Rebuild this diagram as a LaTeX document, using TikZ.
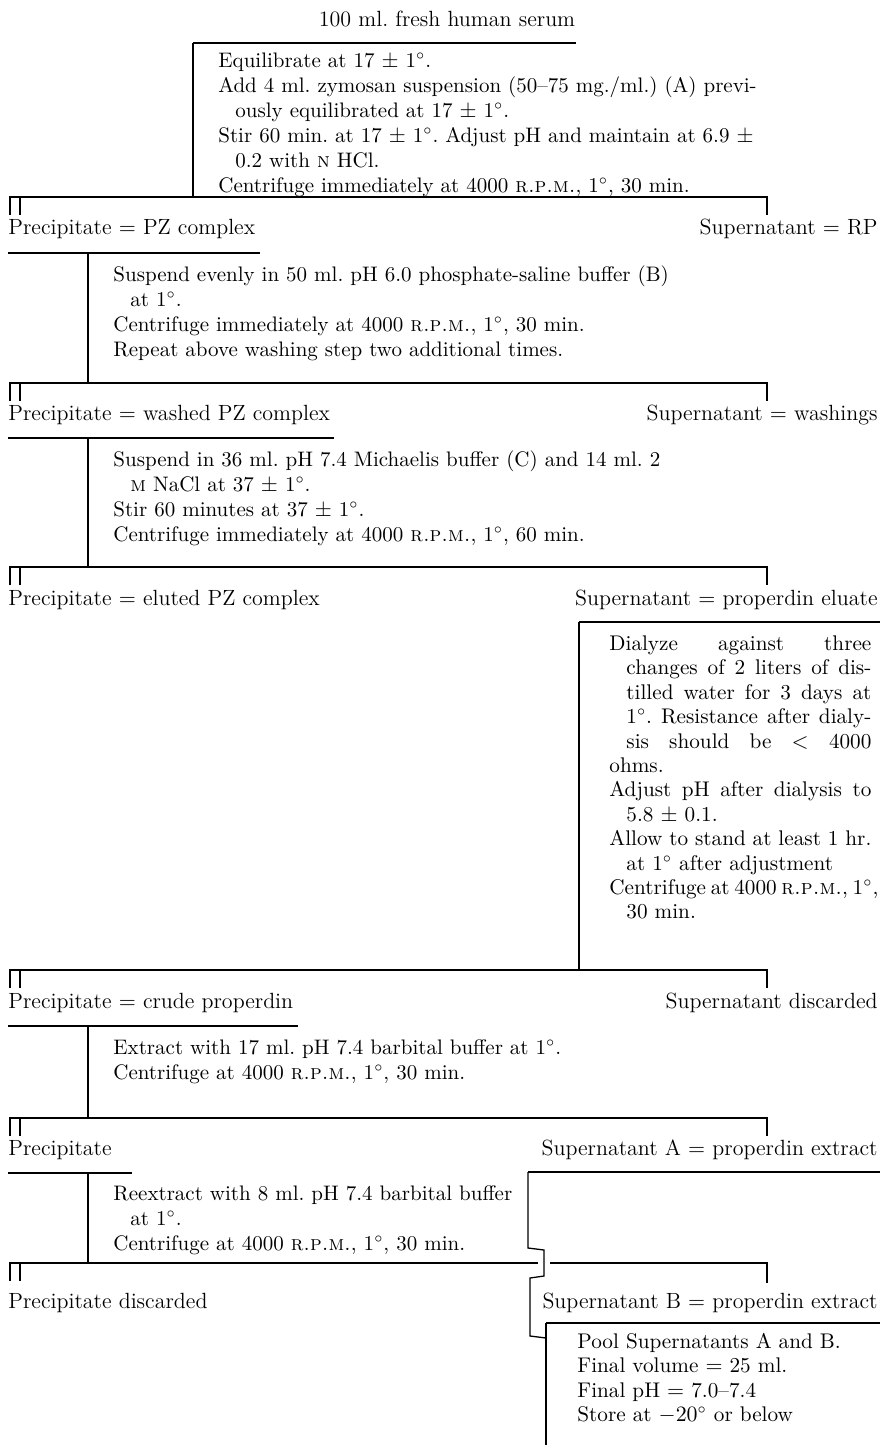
\documentclass[tikz,border=0pt]{standalone}
\frenchspacing
\tikzset{
  stage/.style={inner sep=0pt, font=\fontsize{11}{13}\selectfont},
  steps/.style={inner sep=0pt, anchor=north west, align=left, font=\fontsize{10.5}{12.5}\selectfont},
  bigsteps/.style={steps, font=\fontsize{10.6}{12.2}\selectfont},
  rule/.style={line width=0.65pt},
}
\newcommand{\hang}{\hspace*{8.5pt}}
\newcommand{\dg}{$^\circ$}
\newcommand{\jline}[2][131pt]{\makebox[#1][s]{#2}}

\begin{document}
\begin{tikzpicture}[x=0.5pt,y=-0.5pt]
\useasboundingbox (0,0) rectangle (880,1449);

% starting material
\node[stage,anchor=base] (serum) at (447,27) {100 ml. fresh human serum};
\draw[rule] (193,43) -- (576,43);
\draw[rule] (193,43) -- (193,197);
\node[steps] (mix) at (218,49.5) {\strut Equilibrate at 17 $\pm$ 1\dg.\\
  Add 4 ml. zymosan suspension (50--75 mg./ml.) (A) previ-\\
  \hang ously equilibrated at 17 $\pm$ 1\dg.\\
  Stir 60 min. at 17 $\pm$ 1\dg. Adjust pH and maintain at 6.9 $\pm$\\
  \hang 0.2 with \textsc{n} HCl.\\
  Centrifuge immediately at 4000 \textsc{r.p.m.}, 1\dg, 30 min.};

% split into precipitate and supernatant
\foreach \y in {197,383,567,970,1118} {
  \draw[rule] (10,{\y+18}) -- (10,\y) -- (767,\y) -- (767,{\y+18});
  \draw[rule] (20,\y) -- (20,{\y+18});
}
\draw[rule] (10,1281) -- (10,1263) -- (538,1263);
\draw[rule] (550,1263) -- (767,1263) -- (767,1283);
\draw[rule] (20,1263) -- (20,1281);

% first wash
\node[stage,anchor=base west] (pz) at (8,235) {Precipitate $=$ PZ complex};
\node[stage,anchor=base east] (rp) at (878,235) {Supernatant $=$ RP};
\draw[rule] ([yshift=-9pt]pz.base west) -- ([xshift=2pt,yshift=-9pt]pz.base east);
\draw[rule] (88,253) -- (88,383);
\node[steps] (wash) at (113,263.5) {\strut Suspend evenly in 50 ml. pH 6.0 phosphate-saline buffer (B)\\
  \hang at 1\dg.\\
  Centrifuge immediately at 4000 \textsc{r.p.m.}, 1\dg, 30 min.\\
  Repeat above washing step two additional times.};

% elution
\node[stage,anchor=base west] (wpz) at (8,420) {Precipitate $=$ washed PZ complex};
\node[stage,anchor=base east] (wsh) at (878,420) {Supernatant $=$ washings};
\draw[rule] ([yshift=-9pt]wpz.base west) -- ([xshift=2pt,yshift=-9pt]wpz.base east);
\draw[rule] (88,438) -- (88,567);
\node[steps] (elute) at (113,448.5) {\strut Suspend in 36 ml. pH 7.4 Michaelis buffer (C) and 14 ml. 2\\
  \hang \textsc{m} NaCl at 37 $\pm$ 1\dg.\\
  Stir 60 minutes at 37 $\pm$ 1\dg.\\
  Centrifuge immediately at 4000 \textsc{r.p.m.}, 1\dg, 60 min.};

% dialysis of the eluate
\node[stage,anchor=base west] (epz) at (8,605) {Precipitate $=$ eluted PZ complex};
\node[stage,anchor=base east] (eluate) at (878,605) {Supernatant $=$ properdin eluate};
\draw[rule] (579,622) -- (880,622);
\draw[rule] (579,622) -- (579,970);
\node[bigsteps] (dialyze) at (609,633) {\strut\jline{Dialyze against three}\\
  \hang\jline[122.5pt]{changes of 2 liters of dis-}\\
  \hang\jline[122.5pt]{tilled water for 3 days at}\\
  \hang\jline[122.5pt]{1\dg. Resistance after dialy-}\\
  \hang\jline[122.5pt]{sis should be $<$ 4000}\\
  ohms.\\
  \jline{Adjust pH after dialysis to}\\
  \hang 5.8 $\pm$ 0.1.\\
  \jline{Allow to stand at least 1 hr.}\\
  \hang at 1\dg{} after adjustment\\
  \jline{Centrifuge at 4000 \textsc{r.p.m.}, 1\dg,}\\
  \hang 30 min.};

% extraction
\node[stage,anchor=base west] (crude) at (8,1008) {Precipitate $=$ crude properdin};
\node[stage,anchor=base east] (disc) at (878,1008) {Supernatant discarded};
\draw[rule] ([yshift=-9pt]crude.base west) -- ([xshift=2pt,yshift=-9pt]crude.base east);
\draw[rule] (88,1026) -- (88,1118);
\node[steps] (extract) at (113,1036.5) {\strut Extract with 17 ml. pH 7.4 barbital buffer at 1\dg.\\
  Centrifuge at 4000 \textsc{r.p.m.}, 1\dg, 30 min.};

% reextraction
\node[stage,anchor=base west] (prec) at (8,1155) {Precipitate};
\node[stage,anchor=base east] (supa) at (878,1155) {Supernatant A $=$ properdin extract};
\draw[rule] ([yshift=-9pt]prec.base west) -- ([xshift=10pt,yshift=-9pt]prec.base east);
\draw[rule] (88,1172) -- (88,1263);
\node[steps] (reext) at (113,1182.5) {\strut Reextract with 8 ml. pH 7.4 barbital buffer\\
  \hang at 1\dg.\\
  Centrifuge at 4000 \textsc{r.p.m.}, 1\dg, 30 min.};

% pooling
\node[stage,anchor=base west] (pdisc) at (8,1308) {Precipitate discarded};
\node[stage,anchor=base east] (supb) at (878,1308) {Supernatant B $=$ properdin extract};
\draw[rule] (528,1172) -- (880,1172);
\draw[rule] (528,1172) -- (528,1248) -- (544,1250) -- (544,1276) -- (530,1278) -- (530,1336) -- (546,1338);
\draw[rule] (546,1323) -- (880,1323);
\draw[rule] (546,1323) -- (546,1445);
\node[bigsteps] (pool) at (577,1331) {\strut Pool Supernatants A and B.\\
  Final volume $=$ 25 ml.\\
  Final pH $=$ 7.0--7.4\\
  Store at $-20^\circ$ or below};
\end{tikzpicture}
\end{document}
